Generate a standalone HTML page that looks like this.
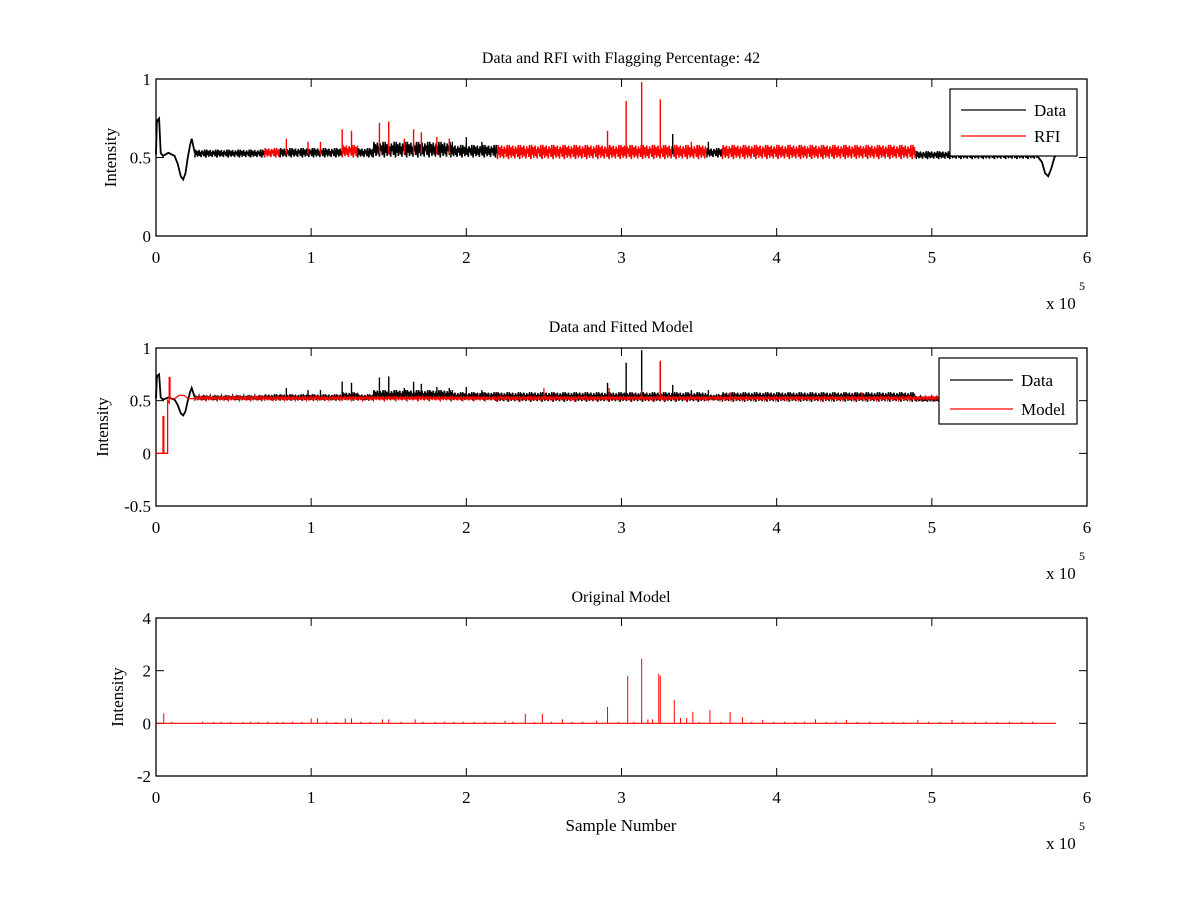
<!DOCTYPE html>
<html><head><meta charset="utf-8"><style>
html,body{margin:0;padding:0;background:#fff;}
svg{display:block;font-family:"Liberation Serif","DejaVu Serif",serif;}
</style></head><body>
<svg id="fig" width="1200" height="900" viewBox="0 0 1200 900" xmlns="http://www.w3.org/2000/svg">
<rect width="1200" height="900" fill="#fff"/>
</svg>
<script>
// ---------- data (x in units of 1e5 samples) ----------
const xTicks = [0,1,2,3,4,5,6];
const topYTicks = [0,0.5,1];
const midYTicks = [-0.5,0,0.5,1];
const botYTicks = [-2,0,2,4];

const traceStartX = [0,0.005,0.01,0.02,0.03,0.045,0.08,0.12,0.14,0.16,0.175,0.19,0.205,0.22,0.23,0.25];
const traceStartY = [0.52,0.72,0.74,0.75,0.53,0.51,0.53,0.51,0.46,0.38,0.36,0.40,0.50,0.58,0.62,0.53];
const traceEndX = [5.68,5.71,5.73,5.75,5.77,5.79,5.81];
const traceEndY = [0.51,0.47,0.40,0.38,0.43,0.50,0.53];

const segStart = [0.25,0.7,0.8,1.2,1.3,1.4,1.9,2.2,3.55,3.65,4.9];
const segEnd   = [0.7,0.8,1.2,1.3,1.4,1.9,2.2,3.55,3.65,4.9,5.68];
const segLo    = [0.50,0.50,0.50,0.50,0.50,0.50,0.50,0.49,0.50,0.49,0.49];
const segHi    = [0.55,0.56,0.56,0.58,0.56,0.60,0.58,0.58,0.56,0.58,0.54];
const segRFI   = [0,1,0,1,0,0,0,1,0,1,0];

const spikeX = [0.84,0.98,1.06,1.2,1.26,1.44,1.5,1.6,1.66,1.71,1.81,1.89,1.91,2.0,2.1,2.91,3.03,3.13,3.25,3.33,3.45,3.56];
const spikeY = [0.62,0.60,0.60,0.68,0.67,0.72,0.73,0.62,0.68,0.66,0.63,0.62,0.60,0.63,0.60,0.67,0.86,0.98,0.87,0.65,0.60,0.60];
const spikeRFI = [1,1,1,1,1,1,1,1,1,1,1,1,0,0,0,1,1,1,1,0,1,0];

const modelTraceX = [0,0.045,0.045,0.05,0.05,0.075,0.075,0.085,0.085,0.09,0.09,0.12,0.15,0.18,0.21,0.25];
const modelTraceY = [0,0,0.35,0.35,0,0,0.50,0.48,0.72,0.72,0.52,0.52,0.55,0.55,0.52,0.52];
const modelLo = [0.50];
const modelHi = [0.545];
const modelSpikeX = [2.5,2.92,3.13,3.25,3.7,4.55];
const modelSpikeY = [0.62,0.62,0.60,0.88,0.58,0.58];

const origX = [0.05,1.0,1.04,1.22,1.26,1.46,1.5,1.67,2.25,2.38,2.49,2.62,2.84,2.91,3.04,3.13,3.17,3.2,3.24,3.25,3.34,3.38,3.42,3.46,3.57,3.7,3.78,3.91,4.25,4.45,4.91,5.13];
const origY = [0.38,0.19,0.19,0.19,0.19,0.15,0.15,0.15,0.10,0.36,0.36,0.15,0.10,0.62,1.80,2.45,0.15,0.15,1.88,1.80,0.89,0.20,0.20,0.44,0.50,0.43,0.23,0.13,0.15,0.13,0.13,0.13];
const tinyX = [0.1,0.3,0.37,0.42,0.48,0.56,0.61,0.66,0.72,0.78,0.82,0.88,0.94,1.1,1.16,1.32,1.38,1.58,1.72,1.8,1.86,1.92,1.98,2.05,2.12,2.18,2.3,2.44,2.55,2.68,2.75,2.98,3.08,3.5,3.64,3.84,3.98,4.05,4.12,4.18,4.32,4.38,4.52,4.6,4.68,4.75,4.82,4.98,5.05,5.2,5.28,5.35,5.42,5.5,5.58,5.65];
const tinyY = [0.05,0.06,0.05,0.06,0.05,0.05,0.06,0.05,0.06,0.05,0.05,0.06,0.05,0.06,0.05,0.06,0.05,0.06,0.06,0.05,0.06,0.05,0.06,0.05,0.06,0.05,0.06,0.05,0.06,0.05,0.06,0.05,0.06,0.06,0.05,0.06,0.05,0.06,0.05,0.06,0.05,0.06,0.05,0.06,0.05,0.06,0.05,0.06,0.05,0.06,0.05,0.06,0.05,0.06,0.05,0.06];

// ---------- drawing ----------
const NS = "http://www.w3.org/2000/svg";
const fig = document.getElementById('fig');
function mk(tag, attrs, parent){
  const e = document.createElementNS(NS, tag);
  for (const k in attrs) e.setAttribute(k, attrs[k]);
  (parent||fig).appendChild(e); return e;
}
const X0 = 156, X1 = 1087;
function sx(v){ return X0 + (v/6)*(X1-X0); }
function makeY(top,bot,ymin,ymax){ return v => bot - (v-ymin)/(ymax-ymin)*(bot-top); }
const tex = [0,1,0.3,0.85,0.1,0.6,0.95,0.2,0.7,0.05,0.9,0.4,0.75,0.15,1,0.35];

function bandPath(x0,x1,lo,hi,sy){
  let d = ''; let i = 0;
  for (let v=x0; v<=x1; v+=0.0045, i++){
    const f = tex[i%tex.length];
    d += (d?'L':'M') + sx(v).toFixed(1) + ' ' + sy(lo + (hi-lo)*f).toFixed(1);
  }
  return d;
}
function linePath(xs,ys,sy){ return xs.map((x,i)=>(i?'L':'M')+sx(x).toFixed(1)+' '+sy(ys[i]).toFixed(1)).join(''); }

function axes(name, top, bot, ymin, ymax, yticks, title, ylabelX, xlabel){
  const g = mk('g', {});
  
  
  const sy = makeY(top,bot,ymin,ymax);
  const t = mk('text', {x:621, y:top-16, 'text-anchor':'middle', 'font-size':16}, g);
  t.textContent = title;
  
  
  const yl = mk('text', {x:ylabelX, y:(top+bot)/2, 'text-anchor':'middle', 'font-size':17, transform:`rotate(-90 ${ylabelX} ${(top+bot)/2})`}, g);
  yl.textContent = 'Intensity';
  
  
  xTicks.forEach(v=>{
    const x = sx(v);
    mk('line',{x1:x,x2:x,y1:bot,y2:bot-8,stroke:'#000','stroke-width':1},g);
    mk('line',{x1:x,x2:x,y1:top,y2:top+8,stroke:'#000','stroke-width':1},g);
    const tl = mk('text',{x:x,y:bot+27,'text-anchor':'middle','font-size':17},g);
    tl.textContent = v;
    
    
  });
  yticks.forEach(v=>{
    const y = sy(v);
    mk('line',{x1:X0,x2:X0+8,y1:y,y2:y,stroke:'#000','stroke-width':1},g);
    mk('line',{x1:X1,x2:X1-8,y1:y,y2:y,stroke:'#000','stroke-width':1},g);
    const tl = mk('text',{x:X0-5,y:y+6,'text-anchor':'end','font-size':17},g);
    tl.textContent = v;
    
    
  });
  const ex = mk('text',{x:1046,y:bot+73,'font-size':17},g);
  ex.textContent = 'x 10';
  
  
  const e5 = mk('text',{x:1079,y:bot+54,'font-size':12},g);
  e5.textContent = '5';
  if (xlabel){
    const xl = mk('text',{x:621,y:bot+55,'text-anchor':'middle','font-size':17},g);
    xl.textContent = xlabel;
    
    
  }
  return {g, sy, top, bot};
}
function frame(a){
  mk('rect',{x:X0,y:a.top,width:X1-X0,height:a.bot-a.top,fill:'none',stroke:'#000','stroke-width':1.3},a.g);
}
function legend(a, x, y, w, h, labels, colors, lineX1, lineX2, textX, rowYs){
  const lg = mk('g',{},a.g);
  
  
  mk('rect',{x:x,y:y,width:w,height:h,fill:'#fff',stroke:'#000','stroke-width':1.2},lg);
  labels.forEach((lab,i)=>{
    const e = mk('g',{},lg);
    
    
    mk('line',{x1:lineX1,x2:lineX2,y1:rowYs[i],y2:rowYs[i],stroke:colors[i],'stroke-width':1.2},e);
    const t = mk('text',{x:textX,y:rowYs[i]+6,'font-size':17},e);
    t.textContent = lab;
  });
}
function drawData(a, useRFI){
  const sy = a.sy;
  const s = mk('g',{},a.g);
  
  
  mk('path',{d:linePath(traceStartX,traceStartY,sy),fill:'none',stroke:'#000','stroke-width':1.8},s);
  mk('path',{d:linePath(traceEndX,traceEndY,sy),fill:'none',stroke:'#000','stroke-width':1.8},s);
  segStart.forEach((x0,i)=>{
    const red = useRFI && segRFI[i];
    mk('path',{d:bandPath(x0,segEnd[i],segLo[i],segHi[i],sy),fill:'none',stroke:red?'#f00':'#000','stroke-width':1.5},s);
  });
  spikeX.forEach((x,i)=>{
    const red = useRFI ? spikeRFI[i] : 0;
    const p = mk('line',{x1:sx(x),x2:sx(x),y1:sy(0.52),y2:sy(spikeY[i]),stroke:red?'#f00':'#000','stroke-width':1.4},s);
    
    
  });
  return s;
}

const A = axes('rfi-panel', 79, 236, 0, 1, topYTicks, 'Data and RFI with Flagging Percentage: 42', 116);
frame(A);
drawData(A, true);
legend(A, 950, 89, 127, 67, ['Data','RFI'], ['#000','#f00'], 961, 1026, 1034, [110,136]);

const B = axes('model-panel', 348, 506, -0.5, 1, midYTicks, 'Data and Fitted Model', 108);
frame(B);
drawData(B, false);
(function(){
  const sy = B.sy;
  const m = mk('g',{},B.g);
  
  
  mk('path',{d:linePath(modelTraceX,modelTraceY,sy),fill:'none',stroke:'#f00','stroke-width':1.3},m);
  mk('path',{d:bandPath(0.25,5.05,modelLo[0],modelHi[0],sy),fill:'none',stroke:'#f00','stroke-width':1},m);
  modelSpikeX.forEach((x,i)=>{
    const l = mk('line',{x1:sx(x),x2:sx(x),y1:sy(0.52),y2:sy(modelSpikeY[i]),stroke:'#f00','stroke-width':1.2},m);
    
    
  });
})();
legend(B, 939, 358, 138, 66, ['Data','Model'], ['#000','#f00'], 950, 1013, 1021, [380,409]);

const C = axes('original-model-panel', 618, 776, -2, 4, botYTicks, 'Original Model', 123, 'Sample Number');
(function(){
  const sy = C.sy;
  const o = mk('g',{},C.g);
  
  
  mk('line',{x1:sx(0),x2:sx(5.8),y1:sy(0),y2:sy(0),stroke:'#f00','stroke-width':1.2},o);
  tinyX.forEach((x,i)=>{
    const l = mk('line',{x1:sx(x),x2:sx(x),y1:sy(0),y2:sy(tinyY[i]),stroke:'#f00','stroke-width':1},o);
    
    
  });
  origX.forEach((x,i)=>{
    const l = mk('line',{x1:sx(x),x2:sx(x),y1:sy(0),y2:sy(origY[i]),stroke:'#f00','stroke-width':1},o);
    
    
  });
})();
frame(C);
</script>
</body></html>
